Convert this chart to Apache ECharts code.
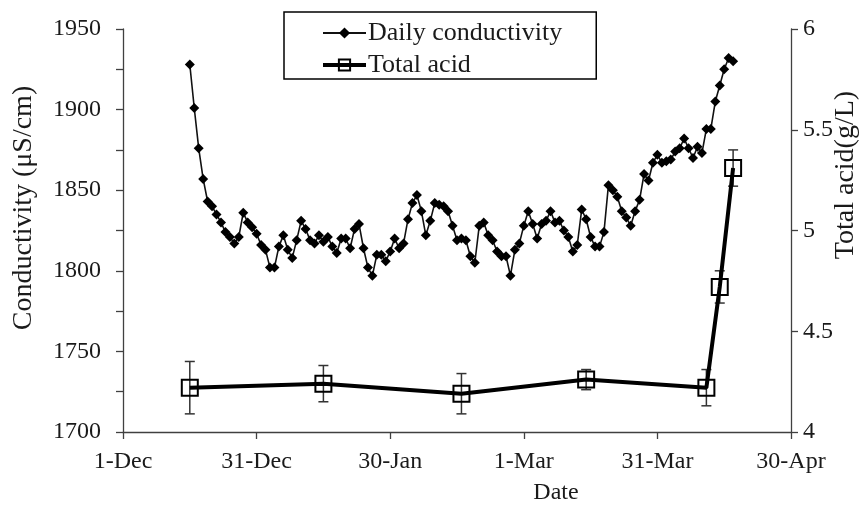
<!DOCTYPE html>
<html><head><meta charset="utf-8">
<script src="https://cdn.jsdelivr.net/npm/echarts@6/dist/echarts.min.js"></script>
<style>html,body{margin:0;padding:0;background:#fff}#c{width:868px;height:505px}</style>
</head><body><div id="c"></div>
<script>
// x axis: days counted from 1-Dec
const xTickLabels = ['1-Dec', '31-Dec', '30-Jan', '1-Mar', '31-Mar', '30-Apr'];
const xTickStep = 30;
const condStartDay = 15; // 16-Dec
const conductivity = [
  1928, 1901, 1876, 1857, 1843, 1840, 1835, 1830, 1824, 1821,
  1817, 1821, 1836, 1830, 1827, 1823, 1816, 1813, 1802, 1802,
  1815, 1822, 1813, 1808, 1819, 1831, 1826, 1819, 1817, 1822,
  1818, 1821, 1815, 1811, 1820, 1820, 1814, 1826, 1829, 1814,
  1802, 1797, 1810, 1810, 1806, 1812, 1820, 1814, 1817, 1832,
  1842, 1847, 1837, 1822, 1831, 1842, 1841, 1840, 1837, 1828,
  1819, 1820, 1819, 1809, 1805, 1828, 1830, 1822, 1819, 1812,
  1809, 1809, 1797, 1813, 1817, 1828, 1837, 1829, 1820, 1829,
  1831, 1837, 1830, 1831, 1825, 1821, 1812, 1816, 1838, 1832,
  1821, 1815, 1815, 1824, 1853, 1850, 1846, 1837, 1833, 1828,
  1837, 1844, 1860, 1856, 1867, 1872, 1867, 1868, 1869,
  1874, 1876, 1882, 1876, 1870, 1877, 1873, 1888, 1888, 1905,
  1915, 1925, 1932, 1930
];
const acidDays = [15, 45, 76, 104, 131, 134, 137];
const totalAcid = [4.22, 4.24, 4.19, 4.26, 4.22, 4.72, 5.31];
const acidErr = [0.13, 0.09, 0.10, 0.05, 0.09, 0.08, 0.09];

const condData = conductivity.map((v, i) => [condStartDay + i, v]);
const acidData = totalAcid.map((v, i) => [acidDays[i], v]);
const errData = totalAcid.map((v, i) => [acidDays[i], v - acidErr[i], v + acidErr[i]]);

const FONT = 'Liberation Serif';
const TXT = '#1a1a1a';
const AX = '#404040';

const chart = echarts.init(document.getElementById('c'), null, {renderer: 'canvas'});
chart.setOption({
  animation: false,
  backgroundColor: '#fff',
  textStyle: {fontFamily: FONT},
  grid: {left: 123, right: 77, top: 29, bottom: 73, containLabel: false},
  legend: {
    orient: 'vertical',
    left: 284, top: 12,
    data: [
      {name: 'Daily conductivity'},
      {name: 'Total acid', lineStyle: {width: 4, color: '#000'}}
    ],
    borderColor: '#000', borderWidth: 1.5,
    padding: [8, 34, 1, 37],
    itemGap: 6,
    itemWidth: 43, itemHeight: 14,
    textStyle: {fontFamily: FONT, fontSize: 26, color: TXT, padding: [0, 0, 0, -3]}
  },
  xAxis: {
    type: 'value', min: 0, max: 150, interval: xTickStep,
    axisLine: {show: true, lineStyle: {color: AX, width: 1.3}},
    axisTick: {show: true, inside: false, length: 7, lineStyle: {color: AX, width: 1.3}},
    splitLine: {show: false},
    axisLabel: {
      color: TXT, fontFamily: FONT, fontSize: 24, margin: 18,
      showMinLabel: true, showMaxLabel: true, hideOverlap: false,
      formatter: v => xTickLabels[Math.round(v / xTickStep)] || ''
    }
  },
  yAxis: [
    {
      type: 'value', min: 1700, max: 1950, interval: 50,
      axisLine: {show: true, lineStyle: {color: AX, width: 1.3}},
      axisTick: {show: true, inside: false, length: 7, lineStyle: {color: AX, width: 1.3}},
      minorTick: {show: true, splitNumber: 2, length: 7, lineStyle: {color: AX, width: 1.3}},
      splitLine: {show: false},
      axisLabel: {color: TXT, fontFamily: FONT, fontSize: 24, margin: 22, showMinLabel: true, showMaxLabel: true,
        formatter: v => String(v)}
    },
    {
      type: 'value', min: 4, max: 6, interval: 0.5, position: 'right',
      axisLine: {show: true, lineStyle: {color: AX, width: 1.3}},
      axisTick: {show: true, inside: false, length: 7, lineStyle: {color: AX, width: 1.3}},
      splitLine: {show: false},
      axisLabel: {color: TXT, fontFamily: FONT, fontSize: 24, margin: 12, showMinLabel: true, showMaxLabel: true,
        formatter: v => String(v)}
    }
  ],
  series: [
    {
      name: 'Daily conductivity', type: 'line', yAxisIndex: 0,
      data: condData,
      symbol: 'diamond', symbolSize: 10,
      lineStyle: {color: '#111', width: 1.6},
      itemStyle: {color: '#000'},
      z: 3
    },
    {
      name: 'Total acid-err', type: 'custom', yAxisIndex: 1,
      data: errData,
      renderItem: function (params, api) {
        const x = api.value(0);
        const lo = api.coord([x, api.value(1)]);
        const hi = api.coord([x, api.value(2)]);
        const w = 5;
        const st = {stroke: '#333', lineWidth: 1.5};
        return {type: 'group', children: [
          {type: 'line', shape: {x1: lo[0], y1: lo[1], x2: hi[0], y2: hi[1]}, style: st},
          {type: 'line', shape: {x1: lo[0] - w, y1: lo[1], x2: lo[0] + w, y2: lo[1]}, style: st},
          {type: 'line', shape: {x1: hi[0] - w, y1: hi[1], x2: hi[0] + w, y2: hi[1]}, style: st}
        ]};
      },
      z: 2
    },
    {
      name: 'Total acid', type: 'line', yAxisIndex: 1,
      data: acidData,
      symbol: 'rect', symbolSize: 16,
      lineStyle: {color: '#000', width: 4},
      itemStyle: {color: 'rgba(255,255,255,0)', borderColor: '#000', borderWidth: 2},
      z: 4
    }
  ],
  graphic: [
    {type: 'text', x: 24, y: 208, rotation: Math.PI / 2,
     style: {text: 'Conductivity (μS/cm)', font: '28px "Liberation Serif"', fill: TXT, align: 'center', verticalAlign: 'middle'}},
    {type: 'text', x: 846, y: 175, rotation: Math.PI / 2,
     style: {text: 'Total acid(g/L)', font: '28px "Liberation Serif"', fill: TXT, align: 'center', verticalAlign: 'middle'}},
    {type: 'text', x: 556, y: 493,
     style: {text: 'Date', font: '24px "Liberation Serif"', fill: TXT, align: 'center', verticalAlign: 'middle'}}
  ]
});
</script></body></html>
